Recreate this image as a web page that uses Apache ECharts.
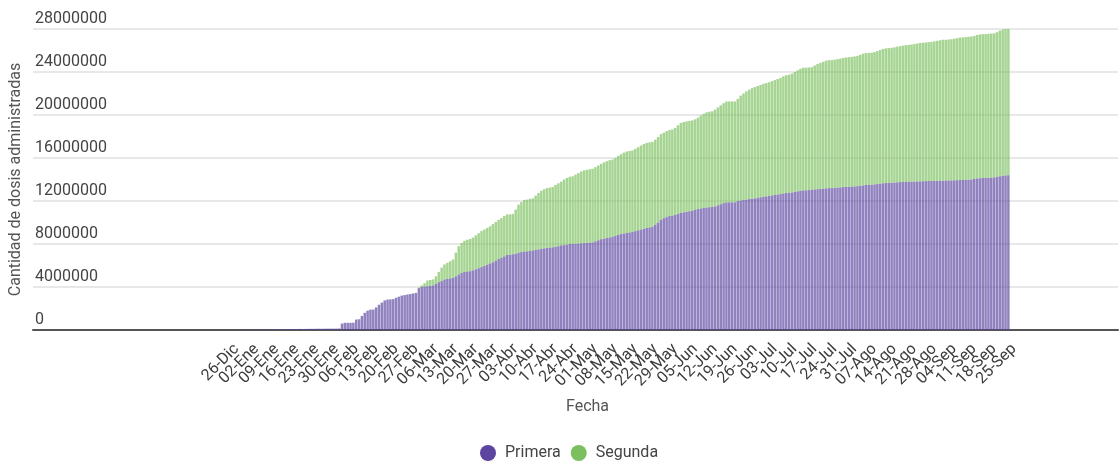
<!DOCTYPE html>
<html>
<head>
<meta charset="utf-8">
<script src="https://cdn.jsdelivr.net/npm/echarts@6/dist/echarts.min.js"></script>
<style>
html,body{margin:0;padding:0;background:#fff;}
#chart{width:1120px;height:462px;}
</style>
</head>
<body>
<div id="chart"></div>
<script>
// Axis range: daily categories from 18-Oct-2020 to 02-Nov-2021
var axisStart = '2020-10-18';
var axisDays = 381;
var dataStartIndex = 69; // 26-Dic-2020
var monthNames = ['Ene','Feb','Mar','Abr','May','Jun','Jul','Ago','Sep','Oct','Nov','Dic'];

var tickLabels = ['26-Dic','02-Ene','09-Ene','16-Ene','23-Ene','30-Ene','06-Feb','13-Feb','20-Feb','27-Feb',
  '06-Mar','13-Mar','20-Mar','27-Mar','03-Abr','10-Abr','17-Abr','24-Abr','01-May','08-May','15-May',
  '22-May','29-May','05-Jun','12-Jun','19-Jun','26-Jun','03-Jul','10-Jul','17-Jul','24-Jul','31-Jul',
  '07-Ago','14-Ago','21-Ago','28-Ago','04-Sep','11-Sep','18-Sep','25-Sep'];

// Cumulative doses (millions), daily from 26-Dic-2020 to 25-Sep-2021
var primera = [
  0,0,0,0.01,0.02,0.02,0.02,
  0.03,0.03,0.04,0.04,0.05,0.05,0.05,
  0.06,0.06,0.06,0.07,0.07,0.07,0.08,
  0.08,0.08,0.09,0.1,0.1,0.1,0.11,
  0.11,0.11,0.12,0.12,0.12,0.12,0.13,
  0.13,0.13,0.13,0.14,0.6,0.67,0.67,
  0.67,0.68,0.97,1.0,1.3,1.6,1.8,
  1.9,1.9,2.1,2.35,2.55,2.75,2.83,
  2.85,2.87,3.0,3.1,3.2,3.25,3.3,
  3.35,3.4,3.45,3.9,4.0,4.05,4.07,
  4.1,4.15,4.3,4.45,4.55,4.7,4.75,
  4.8,4.85,5.0,5.16,5.3,5.4,5.45,
  5.47,5.55,5.65,5.75,5.85,5.95,6.09,
  6.2,6.3,6.45,6.6,6.71,6.85,7.0,
  7.0,7.05,7.1,7.2,7.25,7.3,7.32,
  7.35,7.4,7.45,7.5,7.55,7.6,7.64,
  7.66,7.7,7.75,7.8,7.88,7.9,7.95,
  8.0,8.0,8.02,8.04,8.06,8.08,8.1,
  8.12,8.15,8.25,8.35,8.45,8.5,8.57,
  8.62,8.68,8.75,8.85,8.92,8.98,9.03,
  9.08,9.12,9.2,9.28,9.35,9.42,9.5,
  9.55,9.6,9.8,10.0,10.27,10.4,10.5,
  10.6,10.65,10.7,10.8,10.9,10.95,11.0,
  11.05,11.1,11.2,11.25,11.3,11.35,11.4,
  11.42,11.45,11.5,11.6,11.7,11.8,11.88,
  11.88,11.88,11.88,12.0,12.05,12.1,12.13,
  12.18,12.22,12.25,12.3,12.35,12.4,12.43,
  12.48,12.52,12.56,12.6,12.65,12.7,12.75,
  12.78,12.8,12.85,12.9,12.95,13.0,13.0,
  13.02,13.05,13.08,13.1,13.12,13.15,13.18,
  13.2,13.2,13.22,13.25,13.27,13.3,13.32,
  13.33,13.35,13.36,13.38,13.4,13.45,13.5,
  13.5,13.52,13.55,13.58,13.62,13.65,13.68,
  13.68,13.7,13.72,13.74,13.76,13.78,13.8,
  13.8,13.8,13.81,13.82,13.83,13.84,13.85,
  13.86,13.87,13.88,13.88,13.89,13.9,13.9,
  13.91,13.92,13.93,13.94,13.95,13.96,13.97,
  13.98,14.0,14.05,14.1,14.12,14.14,14.15,
  14.16,14.18,14.2,14.25,14.3,14.35,14.38,
  14.4
];
var segunda = [
  0,0,0,0,0,0,0,
  0,0,0,0,0,0,0,
  0,0,0,0,0,0,0,
  0,0,0,0,0,0,0,
  0,0,0,0,0,0,0,
  0,0,0,0,0,0,0,
  0,0,0,0,0,0,0,
  0,0,0,0,0,0,0,
  0,0,0,0,0,0,0,
  0,0,0,0.05,0.15,0.3,0.53,
  0.55,0.55,0.7,0.95,1.25,1.4,1.5,
  1.6,1.7,2.2,2.64,2.8,2.9,2.95,
  3.0,3.05,3.15,3.25,3.35,3.4,3.41,
  3.45,3.55,3.6,3.65,3.69,3.75,3.75,
  3.75,3.75,4.1,4.46,4.65,4.8,4.81,
  4.85,4.85,5.05,5.25,5.4,5.5,5.56,
  5.59,5.6,5.75,5.85,5.92,6.1,6.2,
  6.25,6.3,6.43,6.56,6.69,6.77,6.8,
  6.83,6.85,6.9,6.95,7.0,7.1,7.13,
  7.18,7.18,7.25,7.35,7.43,7.52,7.57,
  7.57,7.58,7.65,7.72,7.8,7.88,7.9,
  7.9,7.9,7.9,7.95,7.95,7.95,8.0,
  8.0,8.0,8.1,8.25,8.36,8.4,8.4,
  8.4,8.4,8.4,8.5,8.65,8.75,8.85,
  8.88,8.9,9.0,9.1,9.2,9.3,9.38,
  9.38,9.38,9.38,9.5,9.75,9.9,10.07,
  10.17,10.28,10.35,10.4,10.45,10.5,10.54,
  10.57,10.63,10.69,10.75,10.8,10.9,10.95,
  10.97,11.05,11.15,11.25,11.35,11.4,11.4,
  11.4,11.4,11.52,11.65,11.73,11.8,11.87,
  11.9,11.9,11.93,11.95,11.98,12.0,12.03,
  12.05,12.05,12.09,12.12,12.2,12.25,12.26,
  12.28,12.28,12.3,12.37,12.43,12.5,12.52,
  12.54,12.55,12.58,12.61,12.64,12.67,12.7,
  12.72,12.75,12.79,12.83,12.87,12.88,12.9,
  12.92,12.93,12.97,13.02,13.06,13.1,13.1,
  13.11,13.13,13.17,13.21,13.25,13.26,13.28,
  13.3,13.3,13.3,13.35,13.38,13.38,13.38,
  13.39,13.39,13.4,13.45,13.55,13.6,13.62,
  13.65
];

var yTicks = [0, 4000000, 8000000, 12000000, 16000000, 20000000, 24000000, 28000000];

// ---- build ----
var categories = [];
var t0 = Date.parse(axisStart + 'T00:00:00Z');
for (var i = 0; i < axisDays; i++) {
  categories.push(new Date(t0 + i * 86400000).toISOString().slice(0, 10));
}
function fmt(iso) {
  return iso.slice(8, 10) + '-' + monthNames[parseInt(iso.slice(5, 7), 10) - 1];
}
var tickSet = {};
tickLabels.forEach(function (l) { tickSet[l] = true; });

function pad(arr) {
  var out = [];
  for (var i = 0; i < axisDays; i++) {
    var k = i - dataStartIndex;
    out.push(k >= 0 && k < arr.length ? Math.round(arr[k] * 1e6) : null);
  }
  return out;
}

var chart = echarts.init(document.getElementById('chart'), null, {renderer: 'canvas'});
var font = 'Roboto, "Noto Sans", sans-serif';
chart.setOption({
  animation: false,
  textStyle: {fontFamily: font},
  grid: {left: 33, right: 2, top: 29, bottom: 132, containLabel: false, outerBoundsMode: 'none'},
  legend: {
    bottom: 1,
    left: 480,
    padding: 0,
    icon: 'circle',
    itemWidth: 16,
    itemHeight: 16,
    itemGap: 10,
    textStyle: {fontSize: 16, color: '#444', fontFamily: font, padding: [0, 0, 0, 4]},
    data: [
      {name: 'Primera', itemStyle: {color: '#5b45a0', opacity: 1}},
      {name: 'Segunda', itemStyle: {color: '#7cbf5f', opacity: 1}}
    ]
  },
  xAxis: {
    type: 'category',
    data: categories,
    boundaryGap: true,
    name: 'Fecha',
    nameLocation: 'middle',
    nameGap: 69,
    nameTextStyle: {fontSize: 16, color: '#555', fontFamily: font, padding: [0, 0, 0, 24]},
    axisLine: {lineStyle: {color: '#555', width: 2}},
    axisTick: {show: false},
    splitLine: {show: false},
    axisLabel: {
      rotate: 45,
      fontSize: 16,
      color: '#3c3c3c',
      margin: 11,
      verticalAlign: 'top',
      fontFamily: font,
      hideOverlap: false,
      interval: 0,
      formatter: function (val) { var l = fmt(val); return tickSet[l] ? l : ''; }
    }
  },
  yAxis: {
    type: 'value',
    min: yTicks[0],
    max: yTicks[yTicks.length - 1],
    interval: yTicks[1] - yTicks[0],
    name: 'Cantidad de dosis administradas',
    nameLocation: 'middle',
    nameGap: 6,
    nameTextStyle: {fontSize: 16, color: '#555', fontFamily: font},
    axisLine: {show: false},
    axisTick: {show: false},
    splitLine: {lineStyle: {color: '#e8e8e8', width: 2}},
    axisLabel: {
      inside: true,
      verticalAlign: 'bottom',
      margin: 2,
      padding: [0, 0, 2, 0],
      fontSize: 16,
      color: '#444',
      fontFamily: font,
      formatter: function (v) { return String(v); }
    }
  },
  series: [
    {
      name: 'Primera',
      type: 'bar',
      stack: 'dosis',
      data: pad(primera),
      barCategoryGap: '12%',
      itemStyle: {color: '#5b45a0', opacity: 0.68}
    },
    {
      name: 'Segunda',
      type: 'bar',
      stack: 'dosis',
      data: pad(segunda),
      barCategoryGap: '12%',
      itemStyle: {color: '#7cbf5f', opacity: 0.68}
    }
  ]
});
</script>
</body>
</html>
